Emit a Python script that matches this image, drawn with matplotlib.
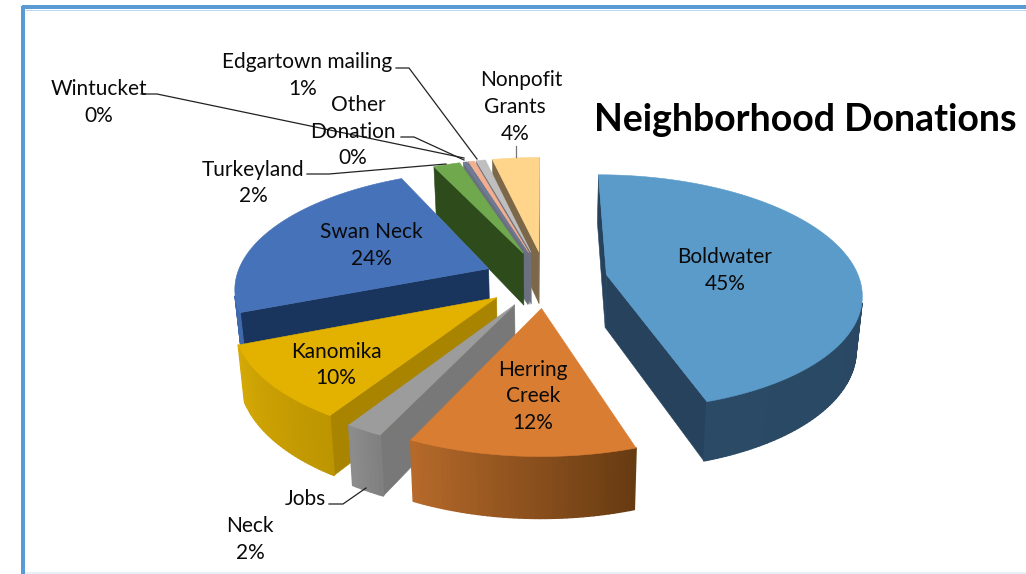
import numpy as np
import matplotlib
matplotlib.use("Agg")
import matplotlib.pyplot as plt
from matplotlib.colors import to_rgb

plt.rcParams['font.family'] = ['Lato', 'DejaVu Sans']

# ---- data ----
categories = ["Boldwater", "Herring Creek", "Jobs Neck", "Kanomika", "Swan Neck",
              "Turkeyland", "Wintucket", "Other Donation", "Edgartown mailing", "Nonpofit Grants"]
values = [45.0, 12.0, 2.0, 10.0, 24.0, 2.0, 0.3, 0.45, 0.7, 3.55]
title = "Neighborhood Donations"

# ---- style ----
top_colors = ["#5B9BC9", "#D97D33", "#9C9C9C", "#E3B200", "#4672B9",
              "#70A84D", "#6F7C96", "#F2B090", "#BFBFBF", "#FFD58C"]
radial_colors = ["#27425C", "#8A4E1C", "#787878", "#A98400", "#19355D",
                 "#2D4B1B", "#6A7080", "#6A7080", "#70707C", "#7C6748"]
arc_start = ["#294460", "#673B12", "#808080", "#BD9500", "#3F69AB",
             "#2D4B1B", "#6A7080", "#6A7080", "#70707C", "#7C6748"]
arc_end = ["#2A4A66", "#B5692A", "#8C8C8C", "#D4A806", "#3F69AB",
           "#2D4B1B", "#6A7080", "#6A7080", "#70707C", "#7C6748"]

CX, CY, A, B, K = 545.5, 279.0, 253.0, 116.0, 0.15
EXPLODE = 0.245
DEPTH = 53.0


def project(u, v, bottom=False):
    u, v = np.asarray(u, float), np.asarray(v, float)
    w = 1 - K * v
    dx, dy = A * u / w, B * v / w
    if bottom:
        return CX + 0.98 * dx, CY + DEPTH + 1.05 * dy
    return CX + dx, CY + dy


def quad_area(xs, ys):
    return 0.5 * sum(xs[i] * ys[(i + 1) % 4] - xs[(i + 1) % 4] * ys[i] for i in range(4))


def wall(ax, p, q, color, z, lw=0.4):
    xs = [p[0][0], q[0][0], q[1][0], p[1][0]]
    ys = [p[0][1], q[0][1], q[1][1], p[1][1]]
    if quad_area(xs, ys) < 0:
        ax.fill(xs, ys, facecolor=color, edgecolor=color, lw=lw, joinstyle="round", zorder=z)


fig = plt.figure(figsize=(10.26, 5.74), dpi=100, facecolor="white")
ax = fig.add_axes([0, 0, 1, 1])
ax.set_xlim(0, 1026)
ax.set_ylim(574, 0)
ax.axis("off")

fractions = np.array(values) / sum(values)
edges = np.concatenate([[0], np.cumsum(fractions)]) * 2 * np.pi
draw_order = [0] + list(range(len(values) - 1, 0, -1))

for rank, i in enumerate(draw_order):
    t0, t1 = edges[i], edges[i + 1]
    mid = (t0 + t1) / 2
    ou, ov = EXPLODE * np.sin(mid), EXPLODE * np.cos(mid) * -1
    n = max(3, int(np.degrees(t1 - t0)))
    th = np.linspace(t0, t1, n + 1)
    us = ou + np.sin(th)
    vs = ov - np.cos(th)
    tx, ty = project(us, vs)
    bx, by = project(us, vs, bottom=True)
    vx, vy = project(ou, ov)
    wx, wy = project(ou, ov, bottom=True)
    z = 2 + rank
    # radial walls
    wall(ax, ((vx, vy), (wx, wy)), ((tx[0], ty[0]), (bx[0], by[0])), radial_colors[i], z)
    wall(ax, ((tx[-1], ty[-1]), (bx[-1], by[-1])), ((vx, vy), (wx, wy)), radial_colors[i], z)
    # outer curved wall, shaded strip by strip
    c0, c1 = np.array(to_rgb(arc_start[i])), np.array(to_rgb(arc_end[i]))
    for j in range(n):
        f = j / max(1, n - 1)
        wall(ax, ((tx[j], ty[j]), (bx[j], by[j])), ((tx[j + 1], ty[j + 1]), (bx[j + 1], by[j + 1])),
             tuple(c0 + (c1 - c0) * f), z, lw=1.2)
    # top face
    ax.fill(np.r_[vx, tx], np.r_[vy, ty], facecolor=top_colors[i], edgecolor=top_colors[i],
            lw=0.4, zorder=z + 0.5)

# frame
FRAME = "#5B9BD5"
PX = 72 / 100
ax.plot([25, 1026], [572.8, 572.8], color="#E8F0F6", lw=2 * PX, solid_capstyle="butt", zorder=1)
ax.plot([25, 1026], [9.5, 9.5], color="#BBD6EE", lw=1 * PX, solid_capstyle="butt", zorder=1)
ax.plot([23, 23], [574, 6], color=FRAME, lw=4 * PX, solid_capstyle="butt", zorder=1)
ax.plot([22, 1026], [7, 7], color=FRAME, lw=4 * PX, solid_capstyle="butt", zorder=1)

# leaders
leaders = [
    ([141, 157, 464], [94, 94, 158], "#222222"),
    ([401, 414, 464], [137, 137, 160], "#222222"),
    ([396, 409, 477], [68, 68, 159], "#222222"),
    ([307, 329, 446], [174, 174, 164], "#222222"),
    ([516, 516], [146, 157], "#777777"),
    ([329, 343, 366], [504, 504, 488], "#222222"),
]
for xs, ys, c in leaders:
    ax.plot(xs, ys, color=c, lw=0.9, zorder=30)

# labels: one entry per visible line
pct = [f"{round(v):d}%" for v in values]
label_lines = [
    (725, 257, categories[0]), (725, 284, pct[0]),
    (533, 370, "Herring"), (533, 396, "Creek"), (533, 423, pct[1]),
    (305, 499, "Jobs"), (250, 526, "Neck"), (250, 553, pct[2]),
    (336, 352, categories[3]), (336, 378, pct[3]),
    (371, 232, categories[4]), (371, 259, pct[4]),
    (253, 170, categories[5]), (253, 196, pct[5]),
    (99, 89, categories[6]), (99, 116, pct[6]),
    (358, 105, "Other"), (353, 132, "Donation"), (353, 158, pct[7]),
    (307, 62, categories[8]), (303, 89, pct[8]),
    (521, 80, "Nonpofit"), (515, 107, "Grants"), (515, 134, pct[9]),
]
for x, y, s in label_lines:
    ax.text(x, y, s, ha="center", va="center", fontsize=15, color="#0A0A0A", zorder=40)

ax.text(805.5, 120, title, ha="center", va="center", fontsize=27, fontweight="bold",
        color="black", zorder=40)

fig.savefig("out.png", dpi=100, facecolor="white")
